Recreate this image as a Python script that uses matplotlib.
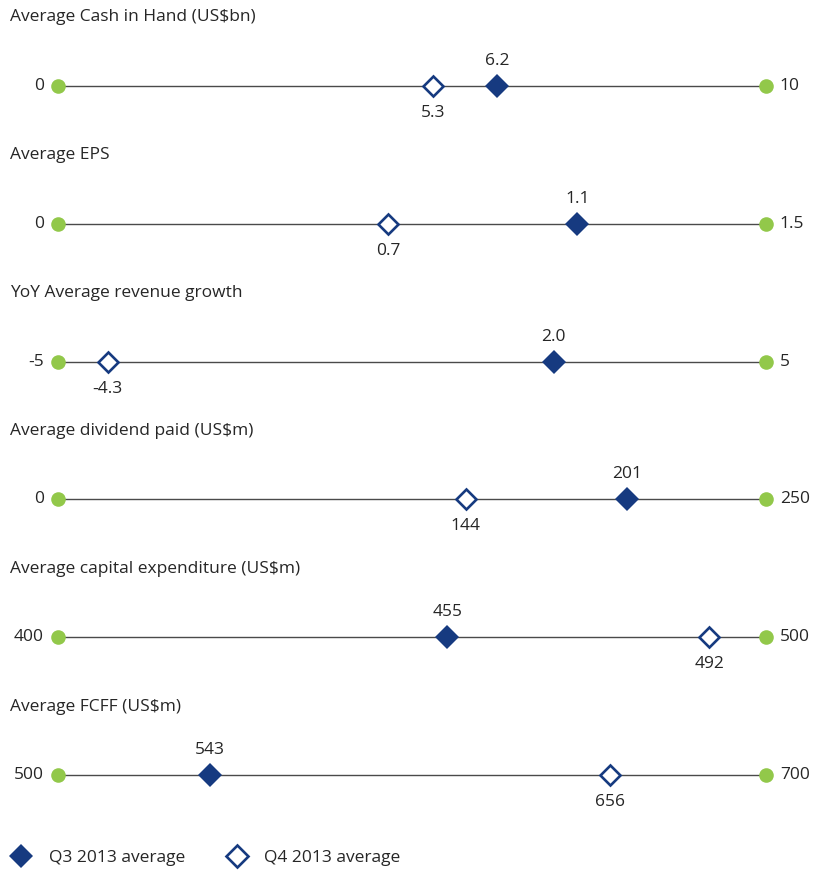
import matplotlib
matplotlib.use("Agg")
import matplotlib.pyplot as plt
from matplotlib.lines import Line2D

plt.rcParams['font.family'] = ['Open Sans', 'DejaVu Sans']

titles = ["Average Cash in Hand (US$bn)", "Average EPS", "YoY Average revenue growth",
          "Average dividend paid (US$m)", "Average capital expenditure (US$m)", "Average FCFF (US$m)"]
mins = [0, 0, -5, 0, 400, 500]
maxs = [10, 1.5, 5, 250, 500, 700]
min_labels = ["0", "0", "-5", "0", "400", "500"]
max_labels = ["10", "1.5", "5", "250", "500", "700"]
q3 = [6.2, 1.1, 2.0, 201, 455, 543]
q4 = [5.3, 0.7, -4.3, 144, 492, 656]
q3_labels = ["6.2", "1.1", "2.0", "201", "455", "543"]
q4_labels = ["5.3", "0.7", "-4.3", "144", "492", "656"]
legend_labels = ["Q3 2013 average", "Q4 2013 average"]

NAVY = "#163a80"
GREEN = "#92c84a"
LINE = "#4a4a4a"
TEXT = "#262626"

W, H = 826, 872
fig = plt.figure(figsize=(W / 100, H / 100), dpi=100)

x0, x1 = 58, 766
line_y = [86, 224, 362, 499, 637, 775]
title_y = [17, 155, 293, 431, 569, 707]
fs = 12.5

for i in range(6):
    h = 60
    ax = fig.add_axes([x0 / W, (H - line_y[i] - h / 2) / H, (x1 - x0) / W, h / H])
    ax.set_xlim(mins[i], maxs[i])
    ax.set_ylim(-1, 1)
    ax.axis('off')
    ax.plot([mins[i], maxs[i]], [0, 0], color=LINE, lw=1.0, zorder=1, clip_on=False)
    ax.plot([mins[i], maxs[i]], [0, 0], 'o', color=GREEN, ms=10.5, mew=0, zorder=3, clip_on=False)
    ax.plot([q4[i]], [0], 'D', mfc='white', mec=NAVY, mew=1.9, ms=10.5, zorder=4, clip_on=False)
    ax.plot([q3[i]], [0], 'D', color=NAVY, ms=11.8, mew=0, zorder=5, clip_on=False)
    ax.annotate(min_labels[i], (mins[i], 0), xytext=(-10, 0), textcoords='offset points',
                ha='right', va='center', fontsize=fs, color=TEXT)
    ax.annotate(max_labels[i], (maxs[i], 0), xytext=(10, 0), textcoords='offset points',
                ha='left', va='center', fontsize=fs, color=TEXT)
    ax.annotate(q3_labels[i], (q3[i], 0), xytext=(0, 17.8), textcoords='offset points',
                ha='center', va='center', fontsize=fs, color=TEXT)
    ax.annotate(q4_labels[i], (q4[i], 0), xytext=(0, -19.2), textcoords='offset points',
                ha='center', va='center', fontsize=fs, color=TEXT)
    fig.text(10 / W, 1 - title_y[i] / H, titles[i], ha='left', va='center', fontsize=fs, color=TEXT)

handles = [Line2D([], [], marker='D', ls='none', color=NAVY, ms=12.5, mew=0),
           Line2D([], [], marker='D', ls='none', mfc='white', mec=NAVY, mew=1.9, ms=11.5)]
leg = fig.legend(handles, legend_labels, loc='center left', bbox_to_anchor=(11 / W, 1 - 858 / H),
                 ncol=2, frameon=False, fontsize=fs, handlelength=1.2, handletextpad=1.0,
                 columnspacing=2.35, borderaxespad=0, borderpad=0)
for t in leg.get_texts():
    t.set_color(TEXT)

fig.savefig("out.png", dpi=100)
